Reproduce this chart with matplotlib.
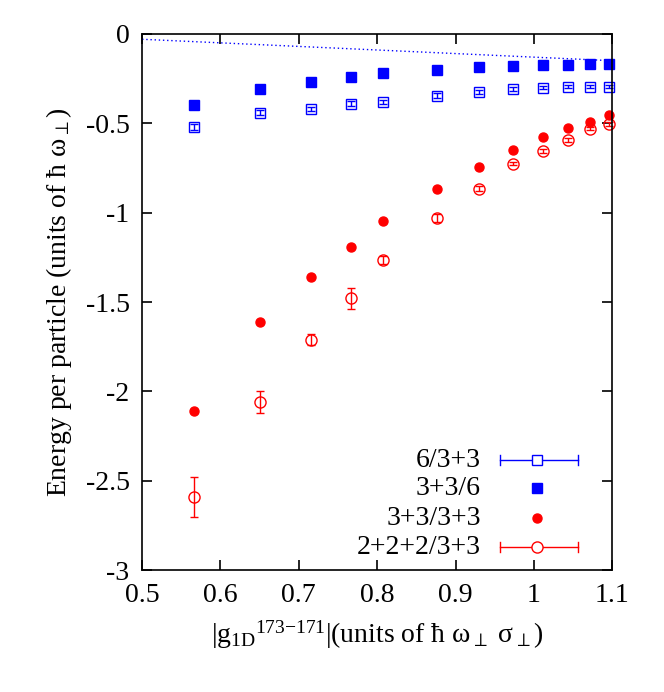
import matplotlib
matplotlib.use("Agg")
import matplotlib.pyplot as plt

plt.rcParams["font.family"] = "Liberation Serif"
plt.rcParams["mathtext.fontset"] = "custom"
plt.rcParams["mathtext.rm"] = "Liberation Serif"
plt.rcParams["mathtext.it"] = "Liberation Serif"
plt.rcParams["font.size"] = 20

# data
g_vals = [0.566, 0.651, 0.715, 0.766, 0.808, 0.877, 0.930, 0.974, 1.012, 1.044, 1.072, 1.096]
e_6_33 = [-0.52, -0.44, -0.42, -0.39, -0.38, -0.345, -0.325, -0.31, -0.30, -0.295, -0.295, -0.295]
err_6_33 = [0.015, 0.012, 0.012, 0.012, 0.012, 0.012, 0.012, 0.012, 0.01, 0.01, 0.01, 0.01]
e_33_6 = [-0.40, -0.31, -0.27, -0.24, -0.22, -0.20, -0.185, -0.18, -0.175, -0.175, -0.17, -0.17]
e_33_33 = [-2.11, -1.61, -1.36, -1.19, -1.045, -0.87, -0.745, -0.65, -0.575, -0.525, -0.49, -0.455]
e_222_33 = [-2.59, -2.06, -1.71, -1.48, -1.265, -1.03, -0.865, -0.725, -0.655, -0.595, -0.53, -0.505]
err_222_33 = [0.11, 0.06, 0.03, 0.06, 0.02, 0.02, 0.015, 0.01, 0.01, 0.01, 0.01, 0.01]
line_x = [0.5, 1.1]
line_y = [-0.03, -0.15]

fig = plt.figure(figsize=(6.64, 6.92), dpi=100)
ax = fig.add_axes([0.214, 0.176, 0.708, 0.775])

ax.plot(line_x, line_y, ls=(0, (1, 2)), color="blue", lw=1)
ax.errorbar(g_vals, e_6_33, yerr=err_6_33, fmt="s", mfc="none", mec="blue",
            ecolor="blue", ms=7, mew=1, capsize=3, elinewidth=1, clip_on=False)
ax.plot(g_vals, e_33_6, "s", color="blue", ms=7, clip_on=False)
ax.plot(g_vals, e_33_33, "o", color="red", ms=6.5, clip_on=False)
ax.errorbar(g_vals, e_222_33, yerr=err_222_33, fmt="o", mfc="none", mec="red",
            ecolor="red", ms=8, mew=1, capsize=3, elinewidth=1, clip_on=False)

# gnuplot-style legend, drawn in axes fraction
labels = ["6/3+3", "3+3/6", "3+3/3+3", "2+2+2/3+3"]
rows_y = [0.205, 0.153, 0.097, 0.043]
for lab, yy in zip(labels, rows_y):
    ax.text(0.721, yy, lab, transform=ax.transAxes, ha="right", va="center", fontsize=20)
tr = ax.transAxes
for yy, c in [(rows_y[0], "blue"), (rows_y[3], "red")]:
    ax.plot([0.762, 0.928], [yy, yy], color=c, lw=1, transform=tr)
    for xe in (0.762, 0.928):
        ax.plot([xe, xe], [yy - 0.009, yy + 0.009], color=c, lw=1, transform=tr)
ax.plot(0.839, rows_y[0], "s", mfc="white", mec="blue", ms=7, transform=tr)
ax.plot(0.839, rows_y[1], "s", color="blue", ms=7, transform=tr)
ax.plot(0.839, rows_y[2], "o", color="red", ms=6.5, transform=tr)
ax.plot(0.839, rows_y[3], "o", mfc="white", mec="red", ms=8, transform=tr)

ax.set_xlim(0.5, 1.1)
ax.set_ylim(-3, 0)
xt = [0.5, 0.6, 0.7, 0.8, 0.9, 1.0, 1.1]
ax.set_xticks(xt)
ax.set_xticklabels(["0.5", "0.6", "0.7", "0.8", "0.9", "1", "1.1"])
yt = [-3, -2.5, -2, -1.5, -1, -0.5, 0]
ax.set_yticks(yt)
ax.set_yticklabels(["-3", "-2.5", "-2", "-1.5", "-1", "-0.5", "0"])
ax.tick_params(direction="in", top=True, right=True, length=7, width=1.2, labelsize=20, pad=9)
for s in ax.spines.values():
    s.set_linewidth(1.2)

ax.set_xlabel(r"|g$_{\mathrm{1D}}$$^{173\mathrm{-}171}$|(units of $\hbar\ \mathrm{\omega}_{\perp}\ \mathrm{\sigma}_{\perp}$)",
              fontsize=20, labelpad=8)
ax.set_ylabel(r"Energy per particle (units of $\hbar\ \mathrm{\omega}_{\perp}$)", fontsize=20, labelpad=8)

fig.savefig("out.png", dpi=100)
